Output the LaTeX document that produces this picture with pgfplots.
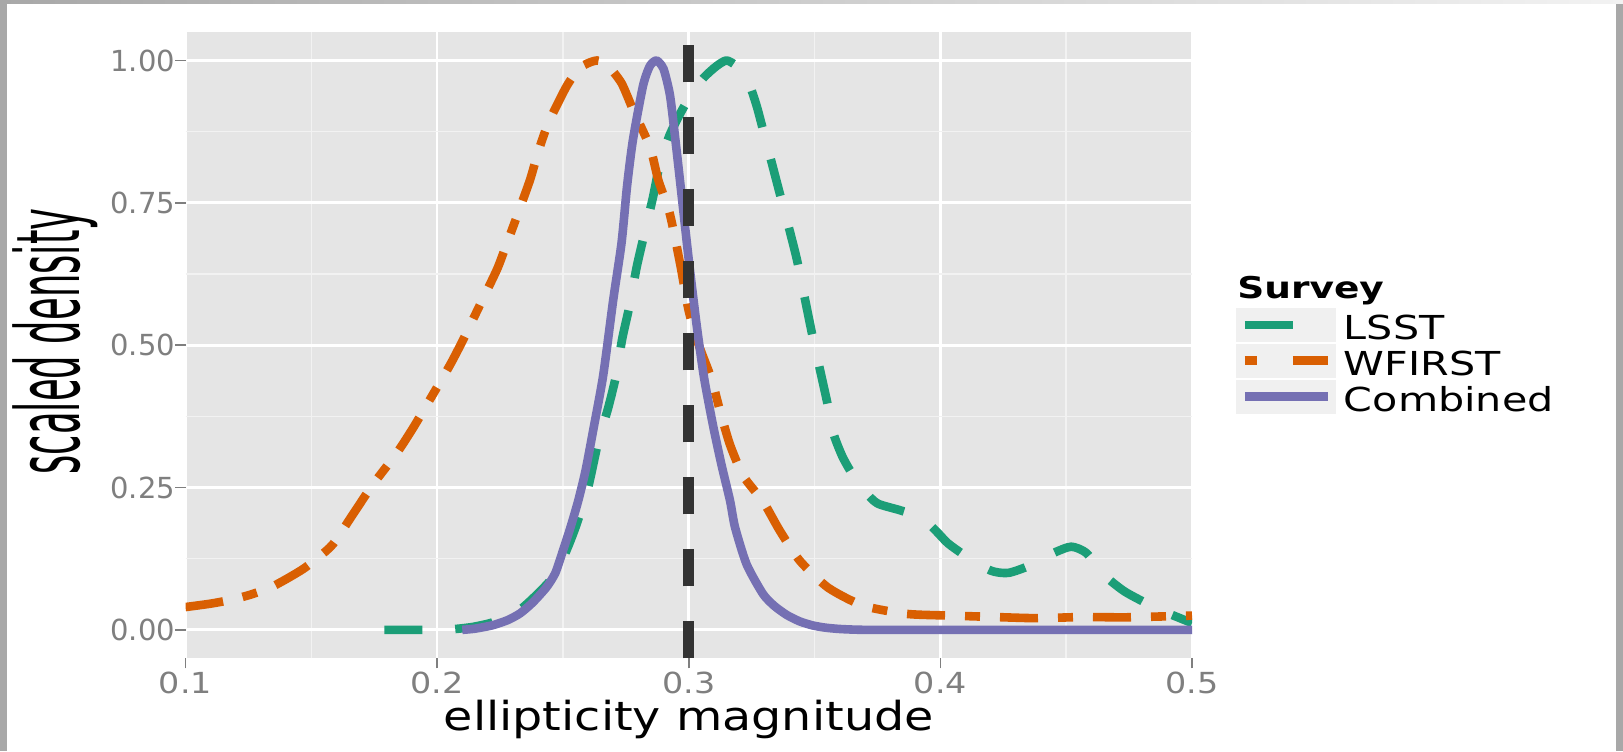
\documentclass[border=0pt]{standalone}
\usepackage{fontspec}
\setmainfont{DejaVu Sans}
\newfontfamily\xtickfont[FakeStretch=1.15]{DejaVu Sans}
\newfontfamily\ytickfont[FakeStretch=1.0]{DejaVu Sans}
\newfontfamily\xlabfont[FakeStretch=1.19]{DejaVu Sans}
\newfontfamily\ylabfont[FakeStretch=0.42]{DejaVu Sans}
\newfontfamily\legfont[FakeStretch=1.25]{DejaVu Sans}
\newfontfamily\legtitlefont[FakeStretch=1.25]{DejaVu Sans}
\usepackage{pgfplots}
\pgfplotsset{compat=1.18}

\definecolor{panelbg}{HTML}{E5E5E5}
\definecolor{minorgrid}{HTML}{F2F2F2}
\definecolor{tickgray}{HTML}{7F7F7F}
\definecolor{keybg}{HTML}{F0F0F0}
\definecolor{framegray}{HTML}{A8A8A8}
\definecolor{toplight}{HTML}{F2F2F2}
\definecolor{lsstcol}{HTML}{1B9E77}
\definecolor{wfirstcol}{HTML}{D95F02}
\definecolor{combcol}{HTML}{7570B3}
\definecolor{vcol}{HTML}{333333}

\begin{document}
\begin{tikzpicture}
% page and screenshot frame
\fill[white] (0pt,0pt) rectangle (811.5pt,375.5pt);
\fill[framegray] (0pt,0pt) rectangle (3.5pt,375.5pt);
\fill[framegray] (808pt,0pt) rectangle (811.5pt,375.5pt);
\shade[left color=framegray, right color=toplight] (0pt,373.5pt) rectangle (811.5pt,375.5pt);
\path[use as bounding box] (0pt,0pt) rectangle (811.5pt,375.5pt);

\begin{axis}[at={(92.75pt,46.35pt)}, anchor=south west,
 scale only axis, width=503.25pt, height=313.15pt,
 xmin=0.1, xmax=0.5, ymin=-0.05, ymax=1.05,
 xtick={0.1,0.2,0.3,0.4,0.5}, xticklabels={0.1,0.2,0.3,0.4,0.5},
 ytick={0,0.25,0.5,0.75,1}, yticklabels={0.00,0.25,0.50,0.75,1.00},
 minor xtick={0.15,0.25,0.35,0.45}, minor ytick={0.125,0.375,0.625,0.875},
 grid=both, major grid style={white, line width=1.35pt},
 minor grid style={minorgrid, line width=0.7pt},
 axis background/.style={fill=panelbg},
 axis line style={draw=none},
 tick pos=left, tick align=outside, major tick length=5pt, minor tick length=0pt,
 tick style={tickgray, line width=0.75pt},
 xticklabel style={font=\xtickfont\fontsize{14.5}{17}\selectfont, text=tickgray, inner sep=0pt, yshift=-1.5pt},
 yticklabel style={font=\ytickfont\fontsize{14.5}{17}\selectfont, text=tickgray, inner sep=0pt},
 xlabel={ellipticity magnitude},
 xlabel style={at={(axis description cs:0.5,-0.1145)}, anchor=base, inner sep=0pt,
   font=\xlabfont\fontsize{20}{24}\selectfont},
 ylabel={scaled density},
 ylabel style={at={(axis description cs:-0.1058,0.5058)}, anchor=base, inner sep=0pt,
   font=\ylabfont\fontsize{44}{50}\selectfont},
 legend style={at={(axis description cs:1.0437,0.5593)}, anchor=north west,
   draw=none, fill=none, inner sep=0pt, outer sep=0pt, row sep=0.5pt, column sep=4pt,
   font=\legfont\fontsize{16.5}{19}\selectfont, nodes={inner sep=0pt}},
 legend cell align=left,
 line join=round,
]
\addplot[lsstcol, line width=4.3pt, smooth, tension=0.4, dash pattern=on 19pt off 16.5pt,
 legend image code/.code={\path[draw=none, fill=keybg] (0pt,-6.5pt) rectangle (50pt,10.5pt);
   \draw[lsstcol, solid, line width=4.3pt, dash pattern=on 24pt off 30pt] (4.5pt,2pt) -- (46pt,2pt);}]
coordinates {(0.179,0.0) (0.190,0.0) (0.198,0.0) (0.206,0.001) (0.214,0.005) (0.222,0.013)
 (0.2316,0.031) (0.238,0.055) (0.245,0.087) (0.250,0.125) (0.255,0.18) (0.260,0.25)
 (0.264,0.33) (0.268,0.39) (0.2713,0.45) (0.2735,0.51) (0.2765,0.57) (0.2793,0.637)
 (0.2826,0.70) (0.2858,0.76) (0.2886,0.82) (0.2925,0.87) (0.297,0.91) (0.301,0.94)
 (0.306,0.97) (0.311,0.99) (0.315,1.0) (0.319,0.99) (0.3237,0.962) (0.327,0.92)
 (0.330,0.87) (0.333,0.82) (0.3362,0.766) (0.339,0.72) (0.343,0.65) (0.346,0.585)
 (0.349,0.52) (0.352,0.46) (0.355,0.40) (0.3575,0.345) (0.361,0.305) (0.3648,0.275)
 (0.370,0.243) (0.375,0.222) (0.384,0.21) (0.3925,0.197) (0.398,0.175) (0.403,0.152)
 (0.410,0.13) (0.420,0.104) (0.427,0.10) (0.4356,0.113) (0.445,0.135) (0.452,0.146)
 (0.458,0.135) (0.4654,0.095) (0.473,0.068) (0.4813,0.048) (0.490,0.03) (0.500,0.012)};
\addlegendentry{LSST}
\addplot[wfirstcol, line width=4.3pt, smooth, tension=0.4, dash pattern=on 19pt off 10pt on 7.5pt off 10pt,
 legend image code/.code={\path[draw=none, fill=keybg] (0pt,-6.5pt) rectangle (50pt,10.5pt);
   \draw[wfirstcol, line width=4.3pt, dash pattern=on 6pt off 18pt on 17.5pt off 18pt] (4.5pt,2pt) -- (46pt,2pt);}]
coordinates {(0.100,0.040) (0.110,0.046) (0.1184,0.053) (0.126,0.062) (0.1336,0.074)
 (0.140,0.089) (0.1468,0.107) (0.1530,0.128) (0.1587,0.151) (0.1667,0.204) (0.1746,0.256)
 (0.1839,0.31) (0.1905,0.355) (0.1972,0.405) (0.2051,0.465) (0.2104,0.51) (0.2164,0.565)
 (0.2237,0.632) (0.227,0.67) (0.2316,0.725) (0.2369,0.79) (0.2402,0.84) (0.2442,0.89)
 (0.2515,0.955) (0.257,0.988) (0.2634,1.0) (0.268,0.99) (0.2733,0.96) (0.278,0.912)
 (0.2846,0.848) (0.2879,0.79) (0.2925,0.73) (0.2967,0.64) (0.300,0.56) (0.304,0.50)
 (0.3091,0.44) (0.3124,0.385) (0.3164,0.325) (0.3217,0.27) (0.3296,0.225) (0.3362,0.174)
 (0.3442,0.121) (0.3554,0.074) (0.3693,0.0425) (0.3866,0.028) (0.4045,0.025)
 (0.4217,0.0225) (0.4383,0.0205) (0.4568,0.0225) (0.474,0.022) (0.500,0.025)};
\addlegendentry{WFIRST}
\addplot[combcol, line width=4.3pt, smooth, tension=0.4,
 legend image code/.code={\path[draw=none, fill=keybg] (0pt,-6.5pt) rectangle (50pt,10.5pt);
   \draw[combcol, line width=4.3pt] (4.5pt,2pt) -- (46pt,2pt);}]
coordinates {(0.210,0.0) (0.215,0.002) (0.222,0.008) (0.228,0.017) (0.233,0.029)
 (0.238,0.048) (0.2435,0.075) (0.247,0.10) (0.250,0.139) (0.253,0.18) (0.2561,0.227)
 (0.259,0.28) (0.262,0.35) (0.266,0.447) (0.270,0.58) (0.2733,0.68) (0.2755,0.78)
 (0.2778,0.86) (0.2818,0.955) (0.2845,0.99) (0.2872,1.0) (0.290,0.985) (0.2925,0.94)
 (0.2944,0.872) (0.2974,0.754) (0.300,0.65) (0.303,0.54) (0.306,0.445) (0.3096,0.36)
 (0.313,0.29) (0.3164,0.227) (0.3184,0.18) (0.323,0.115) (0.3295,0.063) (0.334,0.042)
 (0.339,0.026) (0.344,0.015) (0.349,0.008) (0.354,0.004) (0.360,0.0015) (0.370,0.0)
 (0.400,0.0) (0.450,0.0) (0.500,0.0)};
\addlegendentry{Combined}
\addplot[vcol, line width=5.5pt, dash pattern=on 18.5pt off 17.5pt, forget plot]
coordinates {(0.3,-0.05) (0.3,1.05)};
\end{axis}

\node[anchor=base west, inner sep=0pt, font=\legtitlefont\bfseries\fontsize{15}{18}\selectfont]
 at (618.5pt,226.35pt) {Survey};
\end{tikzpicture}
\end{document}
